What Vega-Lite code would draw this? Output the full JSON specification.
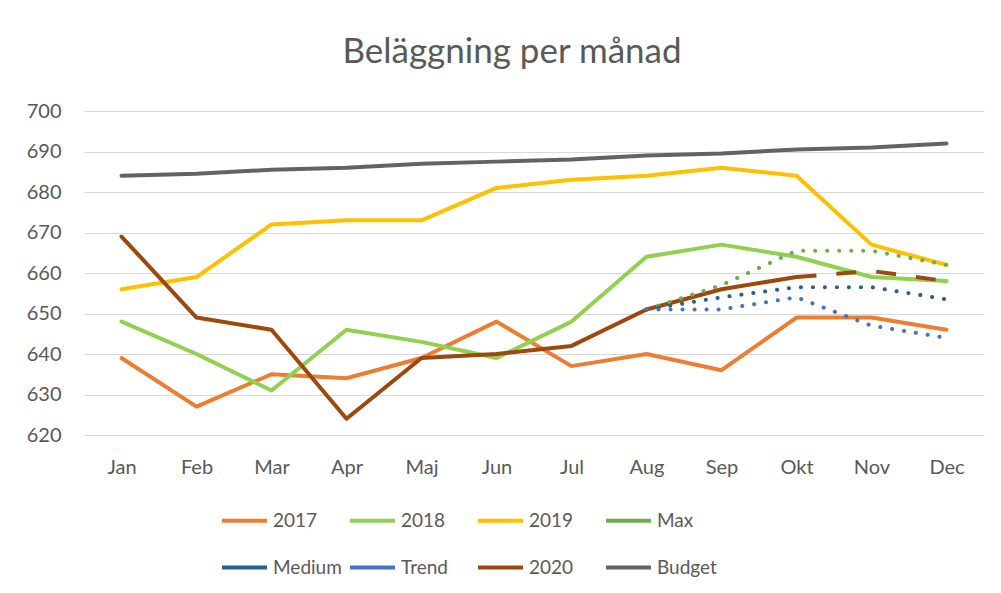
{
  "$schema": "https://vega.github.io/schema/vega-lite/v6.json",
  "autosize": {"type": "none"},
  "width": 900,
  "height": 324,
  "padding": {"left": 84, "top": 111, "right": 17, "bottom": 158},
  "background": "white",
  "title": {"text": "Beläggning per månad", "font": "Lato", "fontSize": 35, "fontWeight": "normal", "color": "#595959", "anchor": "middle", "dx": -22, "offset": 31},
  "config": {
    "view": {"stroke": null},
    "axis": {"labelFont": "Lato", "labelColor": "#595959", "labelFontSize": 20, "domain": false, "ticks": false, "title": null}
  },
  "datasets": {
    "d": [
      {"m":"Jan","s":"2017","v":639,"p":"solid"},{"m":"Feb","s":"2017","v":627,"p":"solid"},{"m":"Mar","s":"2017","v":635,"p":"solid"},{"m":"Apr","s":"2017","v":634,"p":"solid"},{"m":"Maj","s":"2017","v":639,"p":"solid"},{"m":"Jun","s":"2017","v":648,"p":"solid"},{"m":"Jul","s":"2017","v":637,"p":"solid"},{"m":"Aug","s":"2017","v":640,"p":"solid"},{"m":"Sep","s":"2017","v":636,"p":"solid"},{"m":"Okt","s":"2017","v":649,"p":"solid"},{"m":"Nov","s":"2017","v":649,"p":"solid"},{"m":"Dec","s":"2017","v":646,"p":"solid"},
      {"m":"Jan","s":"2018","v":648,"p":"solid"},{"m":"Feb","s":"2018","v":640,"p":"solid"},{"m":"Mar","s":"2018","v":631,"p":"solid"},{"m":"Apr","s":"2018","v":646,"p":"solid"},{"m":"Maj","s":"2018","v":643,"p":"solid"},{"m":"Jun","s":"2018","v":639,"p":"solid"},{"m":"Jul","s":"2018","v":648,"p":"solid"},{"m":"Aug","s":"2018","v":664,"p":"solid"},{"m":"Sep","s":"2018","v":667,"p":"solid"},{"m":"Okt","s":"2018","v":664,"p":"solid"},{"m":"Nov","s":"2018","v":659,"p":"solid"},{"m":"Dec","s":"2018","v":658,"p":"solid"},
      {"m":"Jan","s":"2019","v":656,"p":"solid"},{"m":"Feb","s":"2019","v":659,"p":"solid"},{"m":"Mar","s":"2019","v":672,"p":"solid"},{"m":"Apr","s":"2019","v":673,"p":"solid"},{"m":"Maj","s":"2019","v":673,"p":"solid"},{"m":"Jun","s":"2019","v":681,"p":"solid"},{"m":"Jul","s":"2019","v":683,"p":"solid"},{"m":"Aug","s":"2019","v":684,"p":"solid"},{"m":"Sep","s":"2019","v":686,"p":"solid"},{"m":"Okt","s":"2019","v":684,"p":"solid"},{"m":"Nov","s":"2019","v":667,"p":"solid"},{"m":"Dec","s":"2019","v":662,"p":"solid"},
      {"m":"Aug","s":"Max","v":651,"p":"dot"},{"m":"Sep","s":"Max","v":657,"p":"dot"},{"m":"Okt","s":"Max","v":665.5,"p":"dot"},{"m":"Nov","s":"Max","v":665.5,"p":"dot"},{"m":"Dec","s":"Max","v":662,"p":"dot"},
      {"m":"Aug","s":"Medium","v":651,"p":"dot"},{"m":"Sep","s":"Medium","v":654,"p":"dot"},{"m":"Okt","s":"Medium","v":656.5,"p":"dot"},{"m":"Nov","s":"Medium","v":656.5,"p":"dot"},{"m":"Dec","s":"Medium","v":653.5,"p":"dot"},
      {"m":"Aug","s":"Trend","v":651,"p":"dot"},{"m":"Sep","s":"Trend","v":651,"p":"dot"},{"m":"Okt","s":"Trend","v":654,"p":"dot"},{"m":"Nov","s":"Trend","v":647,"p":"dot"},{"m":"Dec","s":"Trend","v":644,"p":"dot"},
      {"m":"Jan","s":"2020","v":669,"p":"solid"},{"m":"Feb","s":"2020","v":649,"p":"solid"},{"m":"Mar","s":"2020","v":646,"p":"solid"},{"m":"Apr","s":"2020","v":624,"p":"solid"},{"m":"Maj","s":"2020","v":639,"p":"solid"},{"m":"Jun","s":"2020","v":640,"p":"solid"},{"m":"Jul","s":"2020","v":642,"p":"solid"},{"m":"Aug","s":"2020","v":651,"p":"solid"},{"m":"Sep","s":"2020","v":656,"p":"solid"},{"m":"Okt","s":"2020","v":659,"p":"solid"},
      {"m":"Okt","s":"2020","v":659,"p":"dash"},{"m":"Nov","s":"2020","v":660.5,"p":"dash"},{"m":"Dec","s":"2020","v":658,"p":"dash"},
      {"m":"Jan","s":"Budget","v":684,"p":"solid"},{"m":"Feb","s":"Budget","v":684.5,"p":"solid"},{"m":"Mar","s":"Budget","v":685.5,"p":"solid"},{"m":"Apr","s":"Budget","v":686,"p":"solid"},{"m":"Maj","s":"Budget","v":687,"p":"solid"},{"m":"Jun","s":"Budget","v":687.5,"p":"solid"},{"m":"Jul","s":"Budget","v":688,"p":"solid"},{"m":"Aug","s":"Budget","v":689,"p":"solid"},{"m":"Sep","s":"Budget","v":689.5,"p":"solid"},{"m":"Okt","s":"Budget","v":690.5,"p":"solid"},{"m":"Nov","s":"Budget","v":691,"p":"solid"},{"m":"Dec","s":"Budget","v":692,"p":"solid"}
    ]
  },
  "data": {"name": "d"},
  "encoding": {
    "x": {"field": "m", "type": "ordinal", "scale": {"type": "point", "padding": 0.5, "domain": ["Jan","Feb","Mar","Apr","Maj","Jun","Jul","Aug","Sep","Okt","Nov","Dec"]}, "axis": {"labelAngle": 0, "labelPadding": 22, "grid": false}},
    "y": {"field": "v", "type": "quantitative", "scale": {"domain": [620, 700], "nice": false, "zero": false}, "axis": {"values": [620,630,640,650,660,670,680,690,700], "labelPadding": 23, "gridColor": "#D9D9D9", "gridWidth": 1}},
    "color": {"field": "s", "type": "nominal", "scale": {"domain": ["2017","2018","2019","Max","Medium","Trend","2020","Budget"], "range": ["#ED7D31","#92D050","#FFC000","#70AD47","#255E91","#4472C4","#9E480E","#636363"]},
      "legend": {"title": null, "orient": "none", "legendX": 136, "legendY": 385, "columns": 4, "direction": "horizontal", "gridAlign": "all", "columnPadding": 0, "rowPadding": 12, "symbolType": "stroke", "symbolSize": 2025, "symbolStrokeWidth": 4, "symbolDash": [1, 0], "labelOffset": 4, "labelFont": "Lato", "labelFontSize": 19, "labelColor": "#595959", "labelLimit": 80}},
    "detail": {"field": "p"}
  },
  "layer": [
    {"transform": [{"filter": "datum.p == 'solid'"}], "mark": {"type": "line", "strokeWidth": 4, "strokeCap": "round", "strokeJoin": "round"}},
    {"transform": [{"filter": "datum.p == 'dot'"}], "mark": {"type": "line", "strokeWidth": 4, "strokeCap": "round", "strokeJoin": "round", "strokeDash": [0.1, 11.9]}},
    {"transform": [{"filter": "datum.p == 'dash'"}], "mark": {"type": "line", "strokeWidth": 4, "strokeCap": "butt", "strokeJoin": "round", "strokeDash": [20, 20]}}
  ]
}
